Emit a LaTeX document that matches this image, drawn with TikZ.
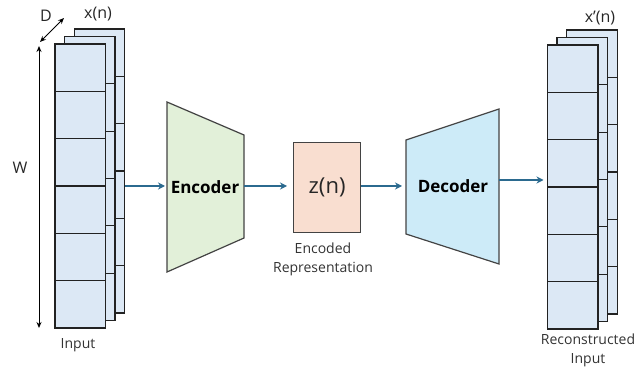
\documentclass[tikz,border=0pt]{standalone}
\usepackage{fontspec}
\setmainfont{Open Sans}
\usetikzlibrary{arrows.meta}
\definecolor{cellblue}{HTML}{DCE8F5}
\definecolor{encgreen}{HTML}{E2F0D9}
\definecolor{decblue}{HTML}{CDEBF8}
\definecolor{zpeach}{HTML}{F9DED0}
\definecolor{arrowblue}{HTML}{2B6A8F}
\definecolor{edgegray}{HTML}{222222}
\newcommand{\layerstack}[2]{%
  \foreach \k in {2,1,0}{%
    \foreach \i in {0,...,5}{%
      \draw[cellstyle] ({#1+9.6*\k},{#2-7.5*\k+47.33*\i}) rectangle ++(50.5,47.33);
    }
  }
}
\begin{document}
\begin{tikzpicture}[x=1pt,y=-1pt,
  cellstyle/.style={draw=edgegray,fill=cellblue,line width=1.3pt},
  blockstyle/.style={draw=edgegray!85,line width=1.2pt},
  flow/.style={draw=arrowblue,line width=1.6pt,-{Stealth[length=7pt,width=7pt]}},
  dim/.style={draw=black,line width=1pt,{Stealth[length=6pt,width=5pt]}-{Stealth[length=6pt,width=5pt]}},
  lbl/.style={font=\fontsize{14}{16}\selectfont,text=black!80,inner sep=0pt},
  mid/.style={font=\fontsize{16}{18}\selectfont,text=black!85,inner sep=0pt},
  big/.style={font=\fontsize{17}{19}\selectfont\bfseries,text=black,inner sep=0pt}]
\useasboundingbox (0,0) rectangle (642,371);
% left input stack
\layerstack{55}{44}
\coordinate (inR) at (125,186);
% right output stack
\layerstack{547.5}{45}
\coordinate (outL) at (547.5,180);
% encoder
\draw[blockstyle,fill=encgreen] (167,102) -- (244,135) -- (244,238) -- (167,272) -- cycle;
\node[big] (enc) at (205,187) {Encoder};
\coordinate (encL) at (167,186);
\coordinate (encR) at (244,186);
% latent
\node[blockstyle,fill=zpeach,minimum width=67pt,minimum height=90pt,inner sep=0pt,anchor=north west] (z) at (293,142) {};
\node[font=\fontsize{22}{24}\selectfont,text=black!85] (zt) at (z.center) {z(n)};
% decoder
\draw[blockstyle,fill=decblue] (406,140) -- (499,109) -- (499,264) -- (406,234) -- cycle;
\node[big] (dec) at (453,186) {Decoder};
\coordinate (decL) at (406,186);
\coordinate (decR) at (499,180);
% connectors
\draw[flow,shorten >=2pt] (inR) -- (encL);
\draw[flow,shorten >=6pt] (encR) -- (z.west |- encR);
\draw[flow,shorten >=4pt] (z.east |- encR) -- (decL);
\draw[flow,shorten >=4pt] (decR) -- (outL);
% dimension arrows
\coordinate (wt) at (39,46);
\coordinate (wb) at (39,328);
\draw[dim] (wt) -- (wb);
\coordinate (da) at (40,42);
\coordinate (db) at (64,18);
\draw[dim] (da) -- (db);
% labels
\node[mid] (D) at (46,16) {D};
\node[mid] (xn) at (98,14) {x(n)};
\node[mid] (W) at (20,168) {W};
\node[lbl] (inlbl) at (78,345) {Input};
\node[mid] (xpn) at (600,18) {x’(n)};
\node[lbl] (rec1) at (588,339) {Reconstructed};
\node[lbl] (rec2) at (588,360) {Input};
\node[lbl] (enc1) at (323,248) {Encoded};
\node[lbl] (enc2) at (323,269) {Representation};
\end{tikzpicture}
\end{document}
